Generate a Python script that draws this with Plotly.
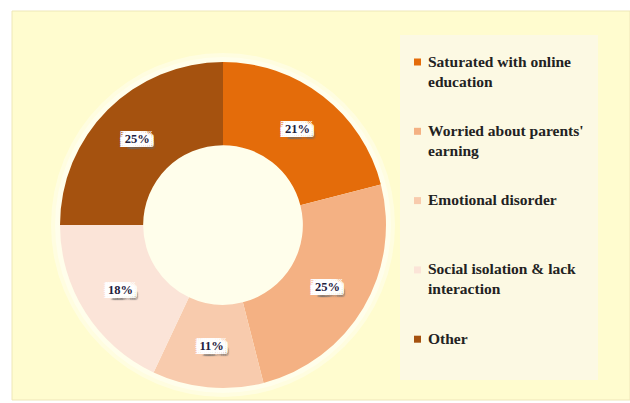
import plotly.graph_objects as go

# ---- data ----
labels = ["Saturated with online education",
          "Worried about parents' earning",
          "Emotional disorder",
          "Social isolation & lack interaction",
          "Other"]
legend_text = ["Saturated with online<br>education",
               "Worried about parents'<br>earning",
               "Emotional disorder",
               "Social isolation & lack<br>interaction",
               "Other"]
values = [21, 25, 11, 18, 25]
colors = ["#E46C0A", "#F4B183", "#F8CBAD", "#FBE4D8", "#A5520F"]

W, H = 630, 403

def px(x):
    return x / W

def py(y):
    return (H - y) / H

# white "label box" built from text shadows, with a soft grey drop shadow
white_parts = []
for dx in (-5, -3, -1, 1, 3, 5):
    for dy in (-4, -2, 0, 2, 4):
        white_parts.append(f"white {dx}px {dy}px")
grey_parts = []
for dx in (2, 4, 6):
    for dy in (2, 4, 6):
        grey_parts.append(f"rgba(110,110,110,0.55) {dx}px {dy}px 1px")
label_shadow = ", ".join(white_parts + grey_parts)

fig = go.Figure()

fig.add_trace(go.Pie(
    labels=labels,
    values=values,
    sort=False,
    direction="clockwise",
    rotation=0,
    hole=0.49,
    marker=dict(colors=colors, line=dict(width=0)),
    texttemplate="%{value}%",
    textposition="inside",
    insidetextorientation="horizontal",
    textfont=dict(family="Liberation Serif", size=12.5, color="#1E2140", weight="bold",
                  shadow=label_shadow),
    domain=dict(x=[px(223 - 163), px(223 + 163)], y=[py(388), py(62)]),
    showlegend=False,
    hoverinfo="label+percent",
))

shapes = [
    # yellow chart area
    dict(type="rect", xref="paper", yref="paper", x0=px(12), x1=1.0, y0=py(400), y1=py(11),
         fillcolor="#FFFCCF", line=dict(color="#EEE7B8", width=1), layer="below"),
    # soft glow around donut
    dict(type="circle", xref="paper", yref="paper", x0=px(223 - 172), x1=px(223 + 172),
         y0=py(225 + 172), y1=py(225 - 172), fillcolor="rgba(255,255,245,0.45)",
         line=dict(width=0), layer="below"),
    dict(type="circle", xref="paper", yref="paper", x0=px(223 - 168), x1=px(223 + 168),
         y0=py(225 + 168), y1=py(225 - 168), fillcolor="rgba(255,255,245,0.5)",
         line=dict(width=0), layer="below"),
    # legend panel
    dict(type="rect", xref="paper", yref="paper", x0=px(400), x1=px(598), y0=py(380), y1=py(35),
         fillcolor="#FCF9E3", line=dict(width=0), layer="below"),
]

annotations = []
first_line_y = 62
step = 69.3
for i, (txt, col) in enumerate(zip(legend_text, colors)):
    yc = first_line_y + i * step
    shapes.append(dict(type="rect", xref="paper", yref="paper",
                       x0=px(414), x1=px(421), y0=py(yc + 3.5), y1=py(yc - 3.5),
                       fillcolor=col, line=dict(width=0)))
    annotations.append(dict(
        x=px(426), y=py(yc - 11.5), xref="paper", yref="paper",
        xanchor="left", yanchor="top", align="left", showarrow=False,
        text=txt,
        font=dict(family="Liberation Serif", size=15.5, color="#222222", weight="bold"),
    ))

fig.update_layout(
    width=W, height=H,
    margin=dict(l=0, r=0, t=0, b=0),
    paper_bgcolor="white",
    plot_bgcolor="white",
    shapes=shapes,
    annotations=annotations,
    showlegend=False,
)

fig.write_html("out.html")
